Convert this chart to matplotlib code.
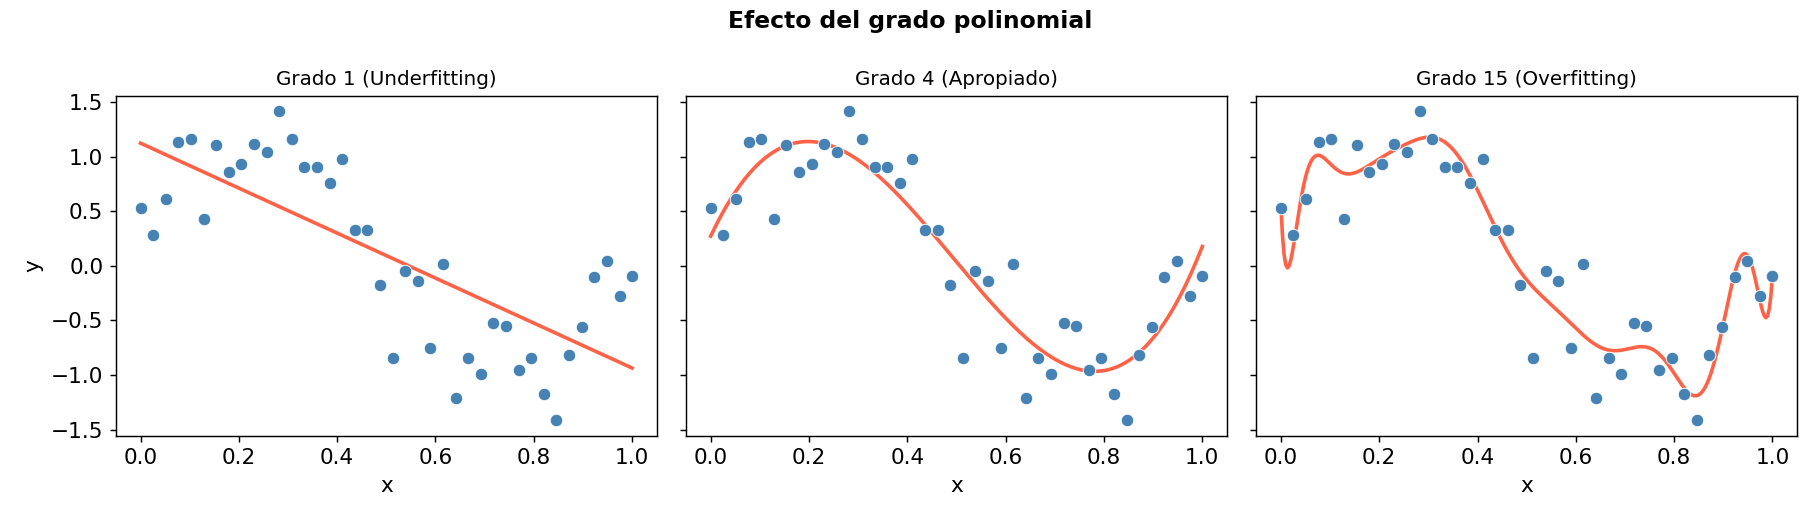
import numpy as np
import matplotlib
matplotlib.use("Agg")
import matplotlib.pyplot as plt

x_values = np.linspace(0, 1, 40)
y_values = [0.53, 0.284, 0.613, 1.137, 1.162, 0.433, 1.110, 0.863, 0.933, 1.119,
            1.043, 1.418, 1.162, 0.906, 0.906, 0.759, 0.979, 0.329, 0.329, -0.171,
            -0.848, -0.043, -0.134, -0.757, 0.021, -1.214, -0.848, -0.995, -0.519, -0.555,
            -0.951, -0.848, -1.171, -1.415, -0.821, -0.556, -0.101, 0.046, -0.273, -0.091]
degrees = [1, 4, 15]
titles = ["Grado 1 (Underfitting)", "Grado 4 (Apropiado)", "Grado 15 (Overfitting)"]
suptitle = "Efecto del grado polinomial"

x = np.asarray(x_values)
y = np.asarray(y_values)
x_plot = np.linspace(0, 1, 300)

fig, axes = plt.subplots(1, 3, figsize=(14, 4), dpi=130, sharey=True)
for ax, deg, title in zip(axes, degrees, titles):
    coefs = np.polyfit(x, y, deg)
    ax.scatter(x, y, s=48, color="steelblue", edgecolors="white", linewidths=0.5, zorder=3)
    ax.plot(x_plot, np.polyval(coefs, x_plot), color="tomato", lw=2, zorder=2)
    ax.set_title(title, fontsize=11)
    ax.set_xlabel("x", fontsize=12)
    ax.tick_params(labelsize=12)
axes[0].set_ylabel("y", fontsize=12)
fig.suptitle(suptitle, fontsize=13, fontweight="bold")
fig.subplots_adjust(left=0.0637, right=0.9874, top=0.816, bottom=0.162, wspace=0.0544)
fig.savefig("out.png", dpi=130)
